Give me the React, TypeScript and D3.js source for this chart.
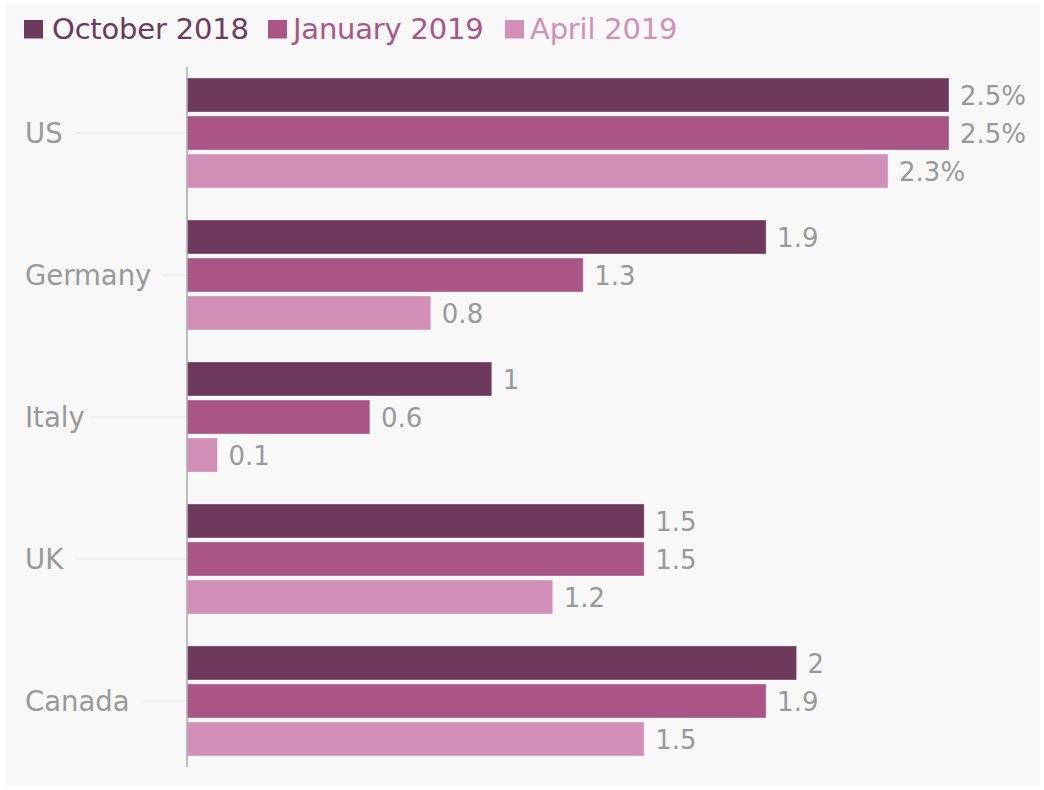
import React from "react";
import * as d3 from "d3";

const categories = ["US", "Germany", "Italy", "UK", "Canada"];
const seriesNames = ["October 2018", "January 2019", "April 2019"];
const october2018 = [2.5, 1.9, 1, 1.5, 2];
const january2019 = [2.5, 1.3, 0.6, 1.5, 1.9];
const april2019 = [2.3, 0.8, 0.1, 1.2, 1.5];
const colors = ["#6d3a5b", "#a95686", "#d390b6"];

const W = 1044;
const H = 790;
const FONT = "'DejaVu Sans', 'Noto Sans', sans-serif";

export default function App() {
  React.useEffect(() => {
    document.body.style.margin = "0";
  }, []);
  const series = [october2018, january2019, april2019];
  const x = d3.scaleLinear().domain([0, 2.5]).range([187, 949]);
  const y0 = d3
    .scaleBand<string>()
    .domain(categories)
    .range([62, 772])
    .paddingInner(0.225)
    .paddingOuter(0.1127);
  const y1 = d3
    .scaleBand<string>()
    .domain(seriesNames)
    .range([0, y0.bandwidth()])
    .paddingInner(0.105)
    .paddingOuter(0);

  const fmt = (v: number, ci: number) => (ci === 0 ? `${v}%` : `${v}`);
  const legendX = [24, 268, 505];
  const legendTextX = [52, 293, 530];
  const tickStart: Record<string, number> = { US: 75, Germany: 162, Italy: 90, UK: 75, Canada: 142 };

  return (
    <svg width={W} height={H} style={{ display: "block" }} fontFamily={FONT}>
      <rect x={0} y={0} width={W} height={H} fill="#ffffff" />
      <rect x={6} y={4} width={1034} height={782} fill="#f8f8f8" />
      {/* legend */}
      {seriesNames.map((s, i) => (
        <g key={s}>
          <rect x={legendX[i]} y={20} width={19} height={18.5} fill={colors[i]} />
          <text x={legendTextX[i]} y={39} fontSize={29} fill={colors[i]} letterSpacing={-0.2}>
            {s}
          </text>
        </g>
      ))}
      {/* category labels + tick lines */}
      {categories.map((c) => {
        const cy = (y0(c) as number) + y0.bandwidth() / 2;
        return (
          <g key={c}>
            <line x1={tickStart[c]} x2={187} y1={cy} y2={cy} stroke="#e6e6e6" strokeWidth={1} />
            <text x={25} y={cy} dy="0.36em" fontSize={27.5} fill="#999999">
              {c}
            </text>
          </g>
        );
      })}
      {/* bars */}
      {categories.map((c, ci) =>
        series.map((vals, si) => {
          const by = (y0(c) as number) + (y1(seriesNames[si]) as number);
          const v = vals[ci];
          return (
            <g key={c + si}>
              <rect
                x={x(0)}
                y={by}
                width={x(v) - x(0)}
                height={y1.bandwidth()}
                fill={colors[si]}
                stroke="#ffffff"
                strokeOpacity={0.35}
                strokeWidth={1}
              />
              <text
                x={x(v) + 11}
                y={by + y1.bandwidth() / 2}
                dy="0.37em"
                fontSize={26}
                fill="#999999"
              >
                {fmt(v, ci)}
              </text>
            </g>
          );
        })
      )}
      <line x1={187} x2={187} y1={67} y2={767} stroke="#aaaaaa" strokeWidth={1.5} />
    </svg>
  );
}
